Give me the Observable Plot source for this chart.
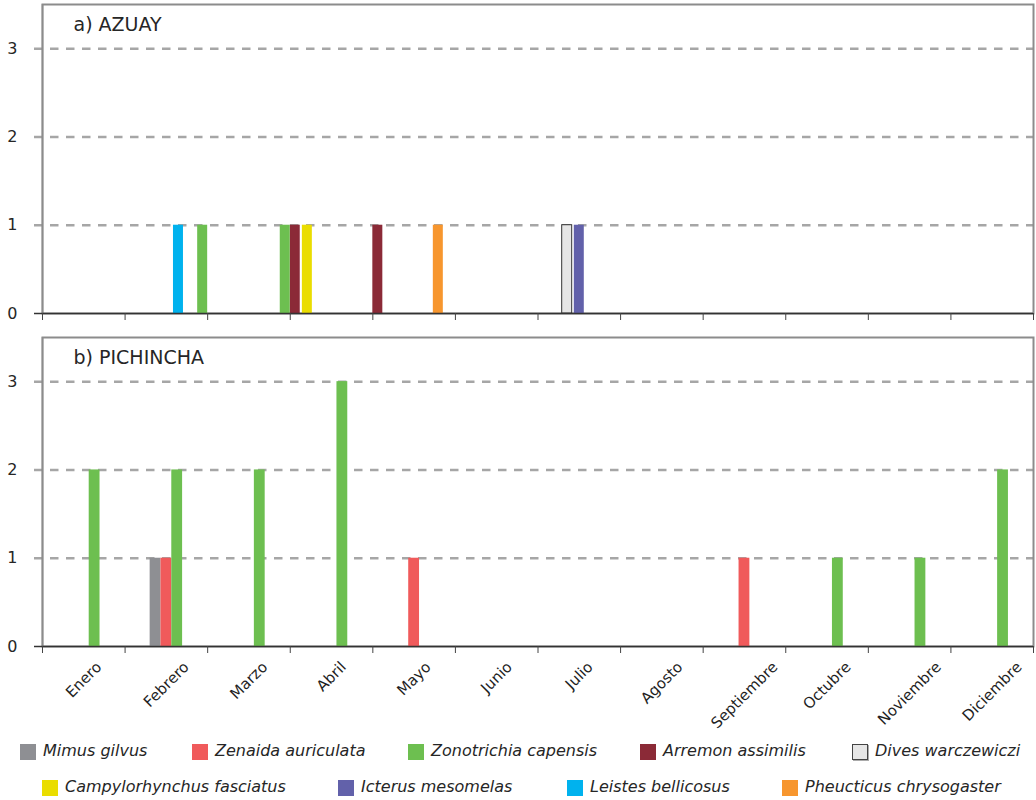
<!DOCTYPE html>
<html>
<head>
<meta charset="utf-8">
<script src="https://cdn.jsdelivr.net/npm/d3@7"></script>
<script src="https://cdn.jsdelivr.net/npm/@observablehq/plot@0.6"></script>
<style>
  body { margin: 0; background: #fff; font-family: "DejaVu Sans", Verdana, sans-serif; }
  #chart { position: relative; width: 1036px; height: 800px; overflow: hidden; }
  #panelA { position: absolute; left: 0; top: 0; }
  #panelB { position: absolute; left: 0; top: 332px; }
  .leg { position: absolute; font-style: italic; font-size: 16px; line-height: 16px; color: #262626; white-space: nowrap; }
  .sw { position: absolute; width: 16px; height: 16px; box-sizing: border-box; }
</style>
</head>
<body>
<div id="chart">
  <div id="panelA"></div>
  <div id="panelB"></div>
  <div id="legend"></div>
</div>
<script>
// ---------------- DATA ----------------
const months = ["Enero", "Febrero", "Marzo", "Abril", "Mayo", "Junio", "Julio", "Agosto", "Septiembre", "Octubre", "Noviembre", "Diciembre"];

// a) AZUAY — series in cluster order
const speciesA = ["Arremon assimilis", "Campylorhynchus fasciatus", "Dives warczewiczi", "Icterus mesomelas", "Leistes bellicosus", "Pheucticus chrysogaster", "Zonotrichia capensis"];
const azuayArremon         = [0, 0, 0, 1, 1, 0, 0, 0, 0, 0, 0, 0];
const azuayCampylorhynchus = [0, 0, 0, 1, 0, 0, 0, 0, 0, 0, 0, 0];
const azuayDives           = [0, 0, 0, 0, 0, 0, 1, 0, 0, 0, 0, 0];
const azuayIcterus         = [0, 0, 0, 0, 0, 0, 1, 0, 0, 0, 0, 0];
const azuayLeistes         = [0, 1, 0, 0, 0, 0, 0, 0, 0, 0, 0, 0];
const azuayPheucticus      = [0, 0, 0, 0, 1, 0, 0, 0, 0, 0, 0, 0];
const azuayZonotrichia     = [0, 1, 1, 0, 0, 0, 0, 0, 0, 0, 0, 0];

// b) PICHINCHA — series in cluster order
const speciesB = ["Mimus gilvus", "Zenaida auriculata", "Zonotrichia capensis"];
const pichinchaMimus       = [0, 1, 0, 0, 0, 0, 0, 0, 0, 0, 0, 0];
const pichinchaZenaida     = [0, 1, 0, 0, 1, 0, 0, 0, 1, 0, 0, 0];
const pichinchaZonotrichia = [2, 2, 2, 3, 0, 0, 0, 0, 0, 1, 1, 2];

const yTicks = [0, 1, 2, 3];
const titleA = "a) AZUAY";
const titleB = "b) PICHINCHA";

const legendRow1 = ["Mimus gilvus", "Zenaida auriculata", "Zonotrichia capensis", "Arremon assimilis", "Dives warczewiczi"];
const legendRow2 = ["Campylorhynchus fasciatus", "Icterus mesomelas", "Leistes bellicosus", "Pheucticus chrysogaster"];

const colorDomain = ["Mimus gilvus", "Zenaida auriculata", "Zonotrichia capensis", "Arremon assimilis", "Dives warczewiczi",
                     "Campylorhynchus fasciatus", "Icterus mesomelas", "Leistes bellicosus", "Pheucticus chrysogaster"];
const colorRange  = ["#8e8f93", "#f05a5b", "#6dbf50", "#8b2a37", "#e6e6e6",
                     "#eadd00", "#6261aa", "#00b2ee", "#f7962e"];

// ---------------- LAYOUT ----------------
const FONT = "DejaVu Sans";
const canvas = document.createElement("canvas");
const ctx = canvas.getContext("2d");
function textWidth(t, size) { ctx.font = `${size}px "${FONT}"`; return ctx.measureText(t).width; }

function panel({title, species, series, step, barW, height, marginTop, marginBottom, labels}) {
  const n = species.length;
  const rows = [];
  species.forEach((sp, j) => series[j].forEach((v, i) => { if (v > 0) rows.push({sp, j, i, v}); }));
  const cx = d => d.i + 0.5 + (d.j - (n - 1) / 2) * step;
  const x1 = d => cx(d) - barW / 2, x2 = d => cx(d) + barW / 2;
  const marks = [
    Plot.ruleY(yTicks.filter(t => t > 0), {stroke: "#a6a6a6", strokeWidth: 2.5, strokeDasharray: "8.5,7.5", insetLeft: -8}),
    Plot.frame({stroke: "#8c8c8c", strokeWidth: 2}),
    Plot.rect(rows, {x1, x2, y1: () => 0, y2: "v", fill: "sp"}),
    Plot.rect(rows.filter(d => d.sp === "Dives warczewiczi"), {x1, x2, y1: () => 0, y2: "v", fill: "none", stroke: "#333", strokeWidth: 1}),
    Plot.ruleX([0], {stroke: "#8c8c8c", strokeWidth: 1.5}),
    Plot.ruleY([0], {stroke: "#333", strokeWidth: 1.5, insetLeft: -8}),
    Plot.axisX({ticks: d3.range(0, 13), tickSize: 7, tickFormat: () => "", stroke: "#444", label: null}),
    Plot.axisY({ticks: yTicks, tickSize: 0, tickPadding: 25, tickFormat: d3.format("d"), fontSize: 16, fill: "#262626", label: null}),
    Plot.text([title], {frameAnchor: "top-left", dx: 31, dy: 13, lineAnchor: "top", fontSize: 19, fill: "#262626", text: d => d})
  ];
  if (labels) {
    months.forEach((m, i) => {
      const L = textWidth(m, 15);
      marks.push(Plot.text([m], {x: () => i + 0.5, y: () => 0, text: d => d, rotate: -45, textAnchor: "end",
        dx: 0.3536 * L, dy: 18, fontSize: 15, fill: "#1f1f1f"}));
    });
  }
  return Plot.plot({
    width: 1036, height, marginLeft: 42, marginRight: 3, marginTop, marginBottom,
    style: {fontFamily: FONT, fontSize: "16px", color: "#262626", background: "white", overflow: "visible"},
    x: {domain: [0, 12]},
    y: {domain: [0, 3.5]},
    color: {domain: colorDomain, range: colorRange},
    marks
  });
}

document.getElementById("panelA").appendChild(panel({
  title: titleA, species: speciesA,
  series: [azuayArremon, azuayCampylorhynchus, azuayDives, azuayIcterus, azuayLeistes, azuayPheucticus, azuayZonotrichia],
  step: 0.1465, barW: 0.121, height: 332, marginTop: 4, marginBottom: 19, labels: false
}));
document.getElementById("panelB").appendChild(panel({
  title: titleB, species: speciesB,
  series: [pichinchaMimus, pichinchaZenaida, pichinchaZonotrichia],
  step: 0.131, barW: 0.131, height: 400, marginTop: 5, marginBottom: 86, labels: true
}));

// ---------------- LEGEND ----------------
const legendLeft1 = [20, 192, 408, 640, 852];
const legendLeft2 = [42, 338, 567, 782];
const legend = document.getElementById("legend");
function addItem(name, left, top) {
  const sw = document.createElement("div");
  sw.className = "sw";
  sw.style.left = left + "px"; sw.style.top = top + "px";
  sw.style.background = colorRange[colorDomain.indexOf(name)];
  if (name === "Dives warczewiczi") { sw.style.border = "1px solid #444"; sw.style.boxShadow = "1px 1px 0 #aaa"; }
  legend.appendChild(sw);
  const t = document.createElement("div");
  t.className = "leg";
  t.textContent = name;
  t.style.left = (left + 23) + "px"; t.style.top = (top - 1) + "px";
  legend.appendChild(t);
}
legendRow1.forEach((name, k) => addItem(name, legendLeft1[k], 744));
legendRow2.forEach((name, k) => addItem(name, legendLeft2[k], 780));
</script>
</body>
</html>
